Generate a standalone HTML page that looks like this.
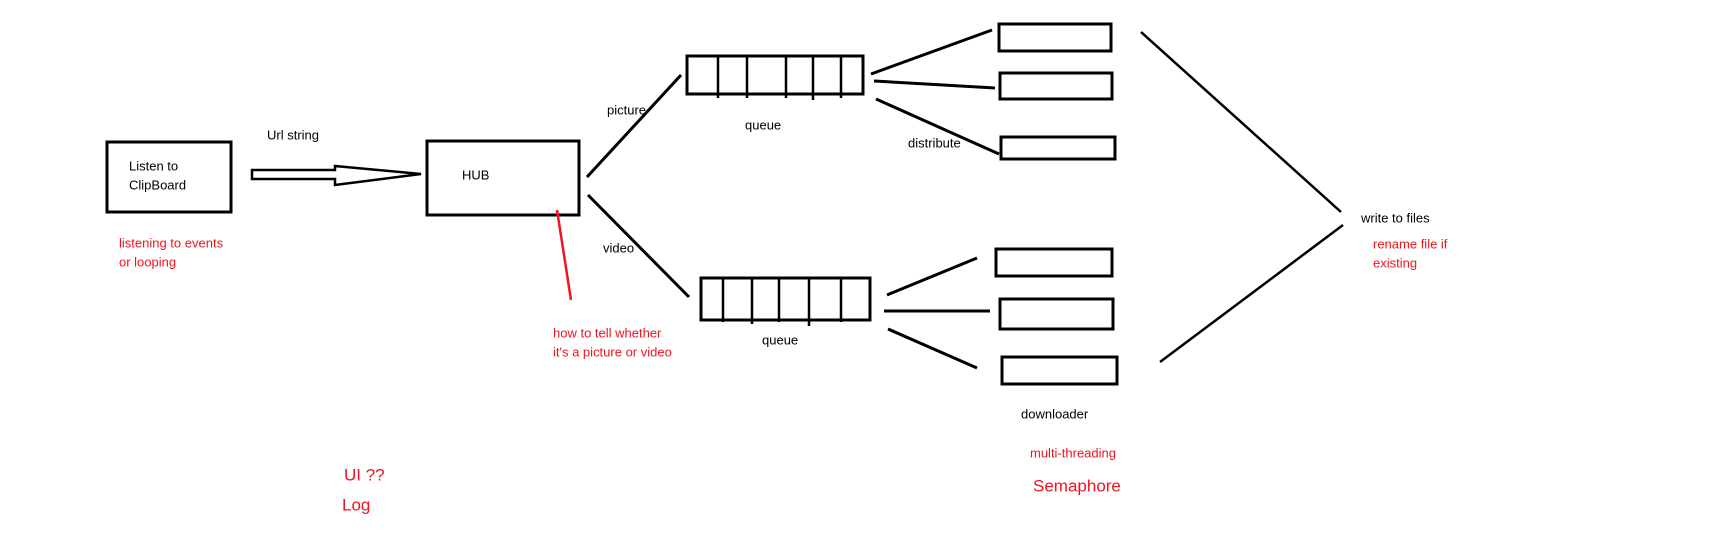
<!DOCTYPE html>
<html><head><meta charset="utf-8"><style>
html,body{margin:0;padding:0;background:#fff;}
svg{display:block;}
text{font-family:"Liberation Sans",sans-serif;font-size:13px;dominant-baseline:middle;}
.r{fill:#f0141e;}
.k{fill:#000;}
</style></head><body>
<svg width="1714" height="557" viewBox="0 0 1714 557">
<g fill="none" stroke="#000" stroke-width="3">
<rect x="107" y="142" width="124" height="70"/>
<polygon points="252,170 335,170 335,166 421,174 335,185 335,179 252,179" stroke-width="2.5"/>
<rect x="427" y="141" width="152" height="74"/>
<line x1="587" y1="177" x2="681" y2="75"/>
<line x1="588" y1="195" x2="689" y2="297"/>
<rect x="687" y="56" width="176" height="38"/>
<path d="M718 56V98M747 56V98M786 56V98M813 56V100M841 56V98" stroke-width="2.5"/>
<rect x="701" y="278" width="169" height="42"/>
<path d="M723 278V322M752 278V324M779 278V322M809 278V326M841 278V322" stroke-width="2.5"/>
<line x1="871" y1="74" x2="992" y2="30"/>
<line x1="874" y1="81" x2="995" y2="88"/>
<line x1="876" y1="99" x2="999" y2="154"/>
<rect x="999" y="24" width="112" height="27"/>
<rect x="1000" y="73" width="112" height="26"/>
<rect x="1001" y="137" width="114" height="22"/>
<line x1="887" y1="295" x2="977" y2="258"/>
<line x1="884" y1="311" x2="990" y2="311"/>
<line x1="888" y1="329" x2="977" y2="368"/>
<rect x="996" y="249" width="116" height="27"/>
<rect x="1000" y="299" width="113" height="30"/>
<rect x="1002" y="357" width="115" height="27"/>
<line x1="1141" y1="32" x2="1341" y2="212" stroke-width="2.5"/>
<line x1="1160" y1="362" x2="1343" y2="225" stroke-width="2.5"/>
</g>
<line x1="557" y1="210" x2="571" y2="300" stroke="#f0141e" stroke-width="2.5"/>
<text class="k" x="129" y="167">Listen to</text>
<text class="k" x="129" y="186">ClipBoard</text>
<text class="r" x="119" y="244">listening to events</text>
<text class="r" x="119" y="263">or looping</text>
<text class="k" x="267" y="136">Url string</text>
<text class="k" x="462" y="176">HUB</text>
<text class="r" x="553" y="334">how to tell whether</text>
<text class="r" x="553" y="353">it's a picture or video</text>
<text class="k" x="607" y="111">picture</text>
<text class="k" x="603" y="249">video</text>
<text class="k" x="745" y="126">queue</text>
<text class="k" x="762" y="341">queue</text>
<text class="k" x="908" y="144">distribute</text>
<text class="k" x="1021" y="415">downloader</text>
<text class="r" x="1030" y="454">multi-threading</text>
<text class="r" x="1033" y="487" style="font-size:17px">Semaphore</text>
<text class="k" x="1361" y="219">write to files</text>
<text class="r" x="1373" y="245">rename file if</text>
<text class="r" x="1373" y="264">existing</text>
<text class="r" x="344" y="476" style="font-size:17px">UI ??</text>
<text class="r" x="342" y="506" style="font-size:17px">Log</text>
</svg>
</body></html>
